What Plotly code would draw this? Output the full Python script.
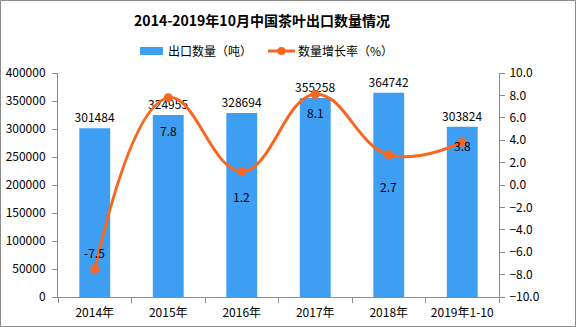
import plotly.graph_objects as go

# Export volume of tea (tonnes) and year-on-year growth (%)
categories = ["2014年", "2015年", "2016年", "2017年", "2018年", "2019年1-10"]
export_volume = [301484, 324955, 328694, 355258, 364742, 303824]
growth_rate = [-7.5, 7.8, 1.2, 8.1, 2.7, 3.8]
# vertical offsets (px) of each growth label relative to its point
rate_label_shift = [17, -33, -25, -18, -32, -3]
legend_names = ["出口数量（吨）", "数量增长率（%）"]

W, H = 576, 327
L, R, T, B = 58, 77, 73, 30
pw, ph = W - L - R, H - T - B

BAR = "#3E9FF2"
LINE = "#F8661F"
AXIS = "#8C8C8C"
FONT = "Noto Sans CJK SC"


def px_x(x):
    return (x - L) / pw


def px_y(y):
    return (H - B - y) / ph


fig = go.Figure()
fig.add_trace(go.Bar(
    x=categories, y=export_volume, name=legend_names[0],
    marker=dict(color=BAR, line=dict(width=0)), width=0.42,
    text=[str(v) for v in export_volume], textposition="outside",
    constraintext="none",
    textfont=dict(size=12, color="black", family=FONT),
    cliponaxis=False, showlegend=False,
))
fig.add_trace(go.Scatter(
    x=categories, y=growth_rate, name=legend_names[1], yaxis="y2",
    mode="lines+markers",
    line=dict(color=LINE, width=3, shape="spline", smoothing=1.2),
    marker=dict(color=LINE, size=9), showlegend=False,
))

for c, v, s in zip(categories, growth_rate, rate_label_shift):
    fig.add_annotation(x=c, y=v, yref="y2", text=f"{v:.1f}", showarrow=False,
                       yshift=s, font=dict(size=12, color="black", family=FONT))

# legend drawn by hand: wide bar swatch and line-with-dot swatch
fig.add_shape(type="rect", xref="paper", yref="paper",
              x0=px_x(140), x1=px_x(163), y0=px_y(55), y1=px_y(47),
              fillcolor=BAR, line=dict(width=0))
fig.add_annotation(xref="paper", yref="paper", x=px_x(166), y=px_y(51),
                   xanchor="left", yanchor="middle", showarrow=False,
                   text=legend_names[0], font=dict(size=12, color="black"))
fig.add_shape(type="line", xref="paper", yref="paper",
              x0=px_x(268), x1=px_x(295), y0=px_y(51), y1=px_y(51),
              line=dict(color=LINE, width=3))
fig.add_shape(type="circle", xref="paper", yref="paper",
              x0=px_x(277.5), x1=px_x(285.5), y0=px_y(55), y1=px_y(47),
              fillcolor=LINE, line=dict(width=0))
fig.add_annotation(xref="paper", yref="paper", x=px_x(296), y=px_y(51),
                   xanchor="left", yanchor="middle", showarrow=False,
                   text=legend_names[1], font=dict(size=12, color="black"))

# outer frame around the whole figure
fig.add_shape(type="rect", xref="paper", yref="paper",
              x0=px_x(0.5), x1=px_x(W - 0.5), y0=px_y(H - 0.5), y1=px_y(0.5),
              line=dict(color=AXIS, width=1), layer="below")

fig.update_layout(
    width=W, height=H,
    margin=dict(l=L, r=R, t=T, b=B, autoexpand=False),
    paper_bgcolor="white", plot_bgcolor="white",
    font=dict(family=FONT, size=12, color="black"),
    title=dict(text="<b>2014-2019年10月中国茶叶出口数量情况</b>",
               x=262 / W, xanchor="center", y=1 - 21 / H, yanchor="middle",
               font=dict(size=14, color="black", family=FONT)),
    bargap=0.58,
    showlegend=False,
    xaxis=dict(showline=True, linecolor=AXIS, linewidth=1, ticks="outside",
               tickson="boundaries", ticklen=5, tickcolor=AXIS,
               showgrid=False, tickfont=dict(size=12), ticklabelstandoff=5,
               automargin=False),
    yaxis=dict(range=[0, 400000], dtick=50000, showline=True, linecolor=AXIS,
               linewidth=1, ticks="outside", ticklen=5, tickcolor=AXIS,
               showgrid=False, zeroline=False, tickformat="d",
               tickfont=dict(size=12), ticklabelstandoff=4, automargin=False),
    yaxis2=dict(range=[-10, 10], dtick=2, overlaying="y", side="right",
                showline=True, linecolor=AXIS, linewidth=1, ticks="outside",
                ticklen=5, tickcolor=AXIS, showgrid=False, zeroline=False,
                tickformat=".1f", tickfont=dict(size=12), ticklabelstandoff=2,
                automargin=False),
)

fig.write_html("out.html")
